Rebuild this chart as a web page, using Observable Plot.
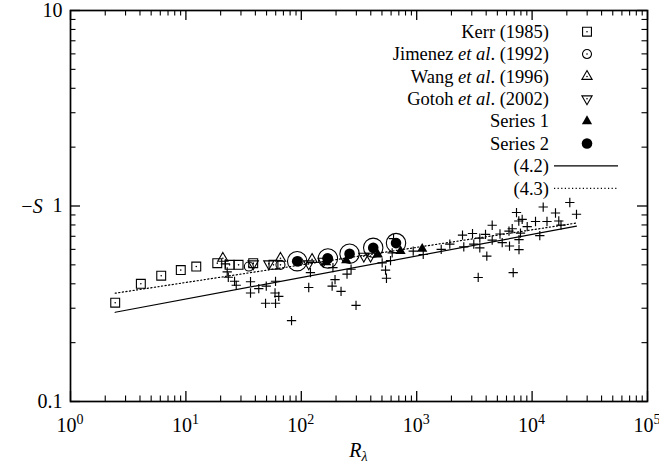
<!DOCTYPE html>
<html><head><meta charset="utf-8">
<script src="https://cdn.jsdelivr.net/npm/d3@7"></script>
<script src="https://cdn.jsdelivr.net/npm/@observablehq/plot@0.6"></script>
<style>
html,body{margin:0;padding:0;background:#fff;}
#chart svg{display:block;}
#chart svg, #chart svg text{font-family:"Liberation Serif", serif !important;}
</style></head><body><div id="chart"></div>
<script>
// ---- data ----
const kerrR = [2.44, 4.07, 6.11, 9.03, 12.3, 18.7, 23.9, 28.6, 38.3, 57.4];
const kerrS = [0.32, 0.40, 0.44, 0.47, 0.49, 0.51, 0.50, 0.50, 0.51, 0.50];
const jimenezR = [35.1, 66, 94.6, 168];
const jimenezS = [0.49, 0.50, 0.52, 0.54];
const wangR = [20.9, 66, 124];
const wangS = [0.54, 0.54, 0.533];
const gotohR = [38.3, 52.3, 116, 155, 348, 398];
const gotohS = [0.506, 0.506, 0.506, 0.522, 0.554, 0.554];
const series1R = [164, 245, 460, 724, 1116];
const series1S = [0.516, 0.527, 0.565, 0.588, 0.604];
const series2R = [92.1, 170, 262, 420, 662];
const series2S = [0.522, 0.539, 0.570, 0.611, 0.646];
const crossR = [22.0, 22.8, 23.3, 26.4, 27.3, 36.3, 36.3, 42.8, 49.7, 59.8, 59.2, 63.8, 49.0, 59.8, 82.3, 116, 120,
  185, 196, 221, 249, 270, 298, 188, 502, 537, 547, 593, 613, 630,
  933, 1139, 1631, 1936, 2494, 2559, 3045, 3124, 3523, 3523, 4051, 3947, 4510, 4510, 5270, 5507, 6306, 6371, 6725,
  7326, 7668, 8205, 7932, 7700, 7700, 9068, 10704, 11660, 12480, 13460, 15950, 17030, 17800, 21220, 24250, 3412, 6859];
const crossS = [0.506, 0.460, 0.432, 0.412, 0.393, 0.410, 0.359, 0.378, 0.389, 0.412, 0.359, 0.345, 0.318, 0.318, 0.259, 0.383, 0.456,
  0.389, 0.420, 0.366, 0.448, 0.475, 0.310, 0.484, 0.512, 0.470, 0.427, 0.526, 0.576, 0.681,
  0.588, 0.565, 0.600, 0.638, 0.710, 0.618, 0.723, 0.638, 0.685, 0.611, 0.554, 0.716, 0.797, 0.669, 0.719, 0.650, 0.744, 0.624, 0.765,
  0.926, 0.838, 0.855, 0.727, 0.673, 0.598, 0.785, 0.833, 0.706, 0.988, 0.833, 0.921, 0.838, 0.799, 1.042, 0.907, 0.431, 0.456];
const eq42R = [2.44, 24250];
const eq42S = [0.286, 0.789];
const eq43R = [2.44, 24250];
const eq43S = [0.358, 0.818];

const xTicks = [1, 10, 100, 1000, 10000, 100000];
const xTickExp = ["0", "1", "2", "3", "4", "5"];
const yTicks = [0.1, 1, 10];
const yTickLabels = ["0.1", "1", "10"];
const legendLabels = [
  [["Kerr (1985)", false]],
  [["Jimenez ", false], ["et al", true], [". (1992)", false]],
  [["Wang ", false], ["et al", true], [". (1996)", false]],
  [["Gotoh ", false], ["et al", true], [". (2002)", false]],
  [["Series 1", false]],
  [["Series 2", false]],
  [["(4.2)", false]],
  [["(4.3)", false]]
];

// ---- build tables ----
const pts = (R, S) => R.map((r, i) => ({r, s: S[i]}));
const kerr = pts(kerrR, kerrS), jimenez = pts(jimenezR, jimenezS), wang = pts(wangR, wangS),
      gotoh = pts(gotohR, gotohS), s1 = pts(series1R, series1S), s2 = pts(series2R, series2S),
      crosses = pts(crossR, crossS), eq42 = pts(eq42R, eq42S), eq43 = pts(eq43R, eq43S);
const openPts = [...kerr, ...jimenez, ...wang, ...gotoh];

const minorOf = (lo, hi) => { const a = []; for (let k = lo; k < hi; k++) for (let m = 2; m <= 9; m++) a.push(m * Math.pow(10, k)); return a; };
const xMinor = minorOf(0, 5), yMinor = minorOf(-1, 1);

const W = 659, H = 464, mL = 70, mR = 12, mT = 10, mB = 63;
const PW = W - mL - mR, PH = H - mT - mB;
const MAJ = 10, MIN = 5.5;
const FONT = "Liberation Serif, serif";

const sym = (type, r) => d3.symbol().type(type).size(Math.PI * r * r)();

function xLabels(index, scales, values, dims) {
  const g = d3.create("svg:g").attr("font-size", 20).attr("font-family", FONT).attr("fill", "black");
  const y = dims.height - dims.marginBottom + 31;
  xTicks.forEach((v, i) => {
    const t = g.append("text").attr("x", scales.x(v)).attr("y", y).attr("text-anchor", "middle");
    t.append("tspan").text("10");
    t.append("tspan").attr("font-size", 14).attr("dy", -8).text(xTickExp[i]);
  });
  const xl = g.append("text").attr("x", dims.marginLeft + (dims.width - dims.marginLeft - dims.marginRight) / 2)
    .attr("y", dims.height - 7).attr("text-anchor", "middle").attr("font-style", "italic");
  xl.append("tspan").text("R");
  xl.append("tspan").attr("font-size", 14).attr("dy", 4).text("λ");
  const yl = g.append("text").attr("x", 32).attr("y", dims.marginTop + (dims.height - dims.marginTop - dims.marginBottom) / 2)
    .attr("dy", "0.35em").attr("text-anchor", "middle");
  yl.append("tspan").text("−");
  yl.append("tspan").attr("font-style", "italic").text("S");
  return g.node();
}

function legend(index, scales, values, dims) {
  const right = dims.width - dims.marginRight;
  const tx = right - 98, sx = right - 60, y0 = dims.marginTop + 21.7, step = 22.37;
  const g = d3.create("svg:g").attr("font-size", 18.5).attr("font-family", FONT).attr("fill", "black");
  legendLabels.forEach((parts, i) => {
    const y = y0 + i * step;
    const t = g.append("text").attr("x", tx).attr("y", y).attr("dy", "0.34em").attr("text-anchor", "end");
    parts.forEach(([s, it]) => t.append("tspan").attr("font-style", it ? "italic" : null).text(s));
    const tr = `translate(${sx},${y})`;
    const dot = () => g.append("circle").attr("cx", sx).attr("cy", y).attr("r", 0.8).attr("fill", "black");
    if (i === 0) { g.append("path").attr("d", sym(d3.symbolSquare, 5)).attr("transform", tr).attr("fill", "none").attr("stroke", "black").attr("stroke-width", 1.1); dot(); }
    if (i === 1) { g.append("path").attr("d", sym(d3.symbolCircle, 4.5)).attr("transform", tr).attr("fill", "none").attr("stroke", "black").attr("stroke-width", 1.1); dot(); }
    if (i === 2) { g.append("path").attr("d", sym(d3.symbolTriangle, 3.8)).attr("transform", tr).attr("fill", "none").attr("stroke", "black").attr("stroke-width", 1.1); dot(); }
    if (i === 3) { g.append("path").attr("d", sym(d3.symbolTriangle, 3.8)).attr("transform", tr + " rotate(180)").attr("fill", "none").attr("stroke", "black").attr("stroke-width", 1.1); dot(); }
    if (i === 4) g.append("path").attr("d", sym(d3.symbolTriangle, 3.8)).attr("transform", tr).attr("fill", "black");
    if (i === 5) g.append("path").attr("d", sym(d3.symbolCircle, 5.3)).attr("transform", tr).attr("fill", "black");
    if (i === 6) g.append("line").attr("x1", tx + 5).attr("x2", tx + 69).attr("y1", y).attr("y2", y).attr("stroke", "black").attr("stroke-width", 1.2);
    if (i === 7) g.append("line").attr("x1", tx + 5).attr("x2", tx + 69).attr("y1", y).attr("y2", y).attr("stroke", "black").attr("stroke-width", 1.2).attr("stroke-dasharray", "1.2,2.4");
  });
  return g.node();
}

const chart = Plot.plot({
  width: W, height: H,
  marginLeft: mL, marginRight: mR, marginTop: mT, marginBottom: mB,
  x: {type: "log", domain: [1, 1e5], axis: null},
  y: {type: "log", domain: [0.1, 10], axis: null},
  style: {fontFamily: FONT, fontSize: "20px", background: "white", color: "black"},
  marks: [
    // ticks (inward, all four sides)
    Plot.ruleX(xTicks, {insetTop: PH - MAJ, strokeWidth: 1.3}),
    Plot.ruleX(xTicks, {insetBottom: PH - MAJ, strokeWidth: 1.3}),
    Plot.ruleX(xMinor, {insetTop: PH - MIN, strokeWidth: 1.1}),
    Plot.ruleX(xMinor, {insetBottom: PH - MIN, strokeWidth: 1.1}),
    Plot.ruleY(yTicks, {insetRight: PW - MAJ, strokeWidth: 1.3}),
    Plot.ruleY(yTicks, {insetLeft: PW - MAJ, strokeWidth: 1.3}),
    Plot.ruleY(yMinor, {insetRight: PW - MIN, strokeWidth: 1.1}),
    Plot.ruleY(yMinor, {insetLeft: PW - MIN, strokeWidth: 1.1}),
    Plot.axisY(yTicks, {tickSize: 0, tickPadding: 8, tickFormat: d => yTickLabels[yTicks.indexOf(d)], label: null, fontSize: 20}),
    // model lines
    Plot.line(eq42, {x: "r", y: "s", stroke: "black", strokeWidth: 1.2}),
    Plot.line(eq43, {x: "r", y: "s", stroke: "black", strokeWidth: 1.2, strokeDasharray: "1.2,2.4"}),
    // data
    Plot.dot(crosses, {x: "r", y: "s", symbol: "plus", r: 3.1, stroke: "black", strokeWidth: 1.15}),
    Plot.dot(kerr, {x: "r", y: "s", symbol: "square", r: 5, stroke: "black", strokeWidth: 1.1, fill: "none"}),
    Plot.dot(jimenez, {x: "r", y: "s", symbol: "circle", r: 4.5, stroke: "black", strokeWidth: 1.1, fill: "none"}),
    Plot.dot(wang, {x: "r", y: "s", symbol: "triangle", r: 3.8, stroke: "black", strokeWidth: 1.1, fill: "none"}),
    Plot.dot(gotoh, {x: "r", y: "s", symbol: "triangle", rotate: 180, r: 3.8, stroke: "black", strokeWidth: 1.1, fill: "none"}),
    Plot.dot(openPts, {x: "r", y: "s", r: 0.8, fill: "black", stroke: null}),
    Plot.dot(s1, {x: "r", y: "s", symbol: "triangle", r: 3.8, fill: "black", stroke: null}),
    Plot.dot(s2, {x: "r", y: "s", symbol: "circle", r: 5.3, fill: "black", stroke: null}),
    Plot.dot(s2, {x: "r", y: "s", symbol: "circle", r: 9.7, fill: "none", stroke: "black", strokeWidth: 1.1}),
    Plot.frame({stroke: "black", strokeWidth: 1.7}),
    xLabels,
    legend
  ]
});
document.getElementById("chart").append(chart);
</script>
</body></html>
